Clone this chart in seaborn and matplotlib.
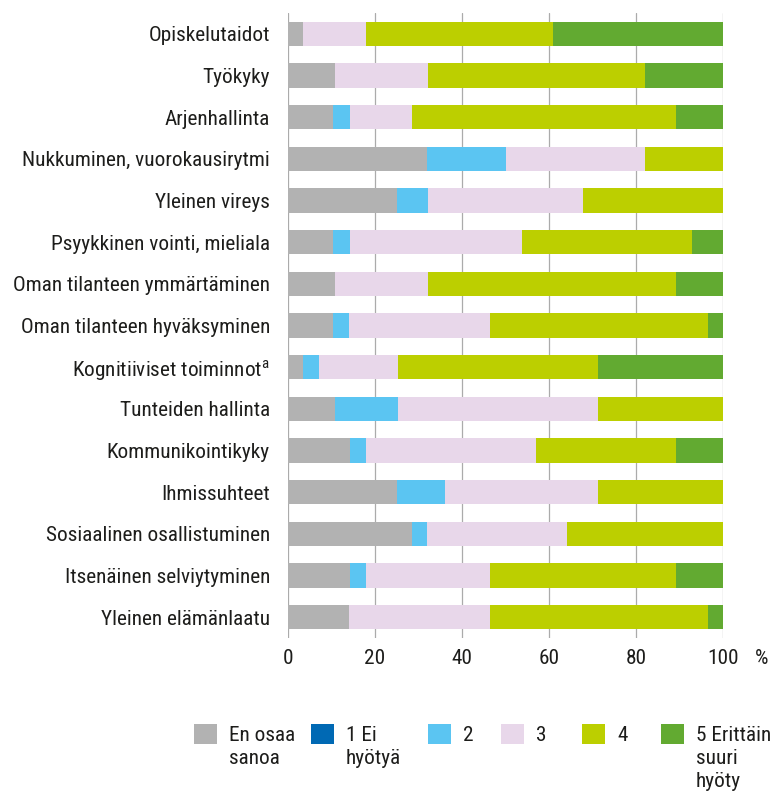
import numpy as np
import pandas as pd
import matplotlib
matplotlib.use("Agg")
import matplotlib.pyplot as plt
import matplotlib.font_manager as fm
from matplotlib.patches import Patch
from matplotlib.font_manager import FontProperties
import seaborn as sns

# ---------------- data ----------------
categories = [
    "Opiskelutaidot",
    "Työkyky",
    "Arjenhallinta",
    "Nukkuminen, vuorokausirytmi",
    "Yleinen vireys",
    "Psyykkinen vointi, mieliala",
    "Oman tilanteen ymmärtäminen",
    "Oman tilanteen hyväksyminen",
    "Kognitiiviset toiminnot$^{\\mathregular{a}}$",
    "Tunteiden hallinta",
    "Kommunikointikyky",
    "Ihmissuhteet",
    "Sosiaalinen osallistuminen",
    "Itsenäinen selviytyminen",
    "Yleinen elämänlaatu",
]
en_osaa = [3.5, 10.7, 10.4, 32.0, 25.1, 10.4, 10.7, 10.4, 3.5, 10.7, 14.3, 25.1, 28.4, 14.3, 14.1]
ei_hyotya = [0, 0, 0, 0, 0, 0, 0, 0, 0, 0, 0, 0, 0, 0, 0]
arvo_2 = [0, 0, 3.9, 18.0, 7.0, 3.9, 0, 3.7, 3.7, 14.5, 3.7, 10.9, 3.6, 3.7, 0]
arvo_3 = [14.5, 21.4, 14.1, 32.0, 35.7, 39.4, 21.4, 32.2, 18.0, 46.0, 38.9, 35.2, 32.0, 28.3, 32.2]
arvo_4 = [42.8, 50.0, 60.7, 18.0, 32.2, 39.1, 57.1, 50.2, 46.0, 28.8, 32.2, 28.8, 36.0, 42.8, 50.2]
arvo_5 = [39.2, 17.9, 10.9, 0, 0, 7.2, 10.8, 3.5, 28.8, 0, 10.9, 0, 0, 10.9, 3.5]

series_names = ["En osaa sanoa", "1 Ei hyötyä", "2", "3", "4", "5 Erittäin suuri hyöty"]
legend_lines = [["En osaa", "sanoa"], ["1 Ei", "hyötyä"], ["2"], ["3"], ["4"],
                ["5 Erittäin", "suuri", "hyöty"]]
colors = ["#b2b2b2", "#0069b4", "#5bc5f2", "#e8d7ea", "#bccf00", "#62aa31"]
xticks = [0, 20, 40, 60, 80, 100]

df = pd.DataFrame({"category": categories})
series = [en_osaa, ei_hyotya, arvo_2, arvo_3, arvo_4, arvo_5]
cum = np.cumsum(np.array(series, dtype=float), axis=0)
for name, c in zip(series_names, cum):
    df[name] = c

# ---------------- style ----------------
sns.set_style("white")

# prefer a narrow / condensed sans if one is installed, else Lato
FONT, STRETCH = "Lato", "normal"
names = {f.name for f in fm.fontManager.ttflist}
for cand in ["Liberation Sans Narrow", "Roboto Condensed", "Open Sans Condensed",
             "Noto Sans Condensed", "Noto Sans Display Condensed"]:
    if cand in names:
        FONT = cand
        break
else:
    for f in fm.fontManager.ttflist:
        if (f.name in ("Noto Sans", "Open Sans", "Roboto", "DejaVu Sans")
                and str(f.stretch) in ("condensed", "semi-condensed")
                and f.style == "normal" and str(f.weight) in ("400", "normal", "regular")):
            FONT, STRETCH = f.name, str(f.stretch)
            break

plt.rcParams["font.family"] = [FONT, "DejaVu Sans"]
plt.rcParams["font.stretch"] = STRETCH
plt.rcParams["mathtext.fontset"] = "custom"
plt.rcParams["mathtext.rm"] = FONT
TXT = "#1d1d1b"
GRID = "#ababab"

W, H = 773, 795
fig = plt.figure(figsize=(W / 100, H / 100), dpi=100)

# size the text so the longest label has the reference width (~257 px)
renderer = fig.canvas.get_renderer()
probe = FontProperties(family=[FONT, "DejaVu Sans"], stretch=STRETCH, size=16.5)
wpx, _, _ = renderer.get_text_width_height_descent("Oman tilanteen ymmärtäminen", probe, ismath=False)
FS = min(16.5, 16.5 * 257 / wpx)

ax = fig.add_axes([288 / W, 1 - 638 / H, (723.3 - 288) / W, (638 - 13) / H])

# stacked bars: draw cumulative totals from the largest down
for name, col in reversed(list(zip(series_names, colors))):
    sns.barplot(data=df, y="category", x=name, orient="h", color=col,
                saturation=1, width=0.58, ax=ax, edgecolor="none", linewidth=0)

ax.set_xlim(0, 100)
ax.set_ylim(len(categories) - 0.5, -0.5)
ax.set_xticks(xticks)
ax.set_xticklabels([str(t) for t in xticks])
ax.set_xlabel("")
ax.set_ylabel("")
for s in ax.spines.values():
    s.set_visible(False)
ax.set_axisbelow(True)
ax.grid(axis="x", color=GRID, linewidth=0.9)
ax.grid(axis="y", visible=False)
ax.tick_params(axis="x", length=0, pad=8, labelsize=FS, labelcolor=TXT)
ax.tick_params(axis="y", length=0, pad=13, labelsize=FS, labelcolor=TXT)

ax.annotate("%", xy=(1, 0), xycoords="axes fraction", xytext=(23, -8),
            textcoords="offset points", ha="left", va="top", fontsize=FS, color=TXT)

# ---------------- legend ----------------
patch_x = [194, 311, 428, 501, 582, 661]
legs = []
for px, col, lines in zip(patch_x, colors, legend_lines):
    lg = fig.legend(handles=[Patch(facecolor=col, edgecolor="none")], labels=[lines[0]],
                    loc="upper left", bbox_to_anchor=(px / W, 1 - 724 / H),
                    frameon=False, borderpad=0, borderaxespad=0, fontsize=FS,
                    handlelength=23 / (FS * 100 / 72), handleheight=23 / (FS * 100 / 72),
                    handletextpad=12 / (FS * 100 / 72), labelcolor=TXT)
    legs.append((lg, lines))

fig.canvas.draw()
renderer = fig.canvas.get_renderer()
for lg, lines in legs:
    t = lg.get_texts()[0]
    bb = t.get_window_extent(renderer)
    _, _, d = renderer.get_text_width_height_descent("lp", t.get_fontproperties(), ismath=False)
    base = bb.y0 + d
    for k, line in enumerate(lines[1:], start=1):
        fig.text(bb.x0 / W, (base - 23 * k) / H, line, ha="left", va="baseline",
                 fontsize=FS, color=TXT)

fig.savefig("out.png", dpi=100)
